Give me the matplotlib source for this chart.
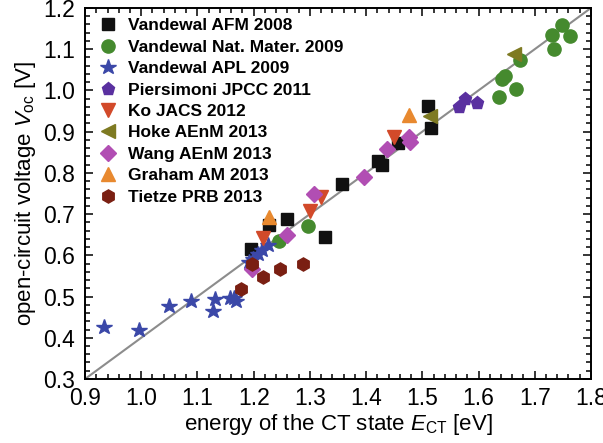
import matplotlib.pyplot as plt
from matplotlib.ticker import MultipleLocator

plt.rcParams['font.family'] = ['Liberation Sans', 'DejaVu Sans']
plt.rcParams['mathtext.fontset'] = 'custom'
plt.rcParams['mathtext.rm'] = 'Liberation Sans'
plt.rcParams['mathtext.it'] = 'Liberation Sans:italic'

# E_CT (eV), Voc (V) per reference
afm08_e = [1.195, 1.228, 1.260, 1.327, 1.357, 1.421, 1.429, 1.457, 1.511, 1.516]
afm08_v = [0.616, 0.674, 0.688, 0.645, 0.773, 0.829, 0.819, 0.872, 0.961, 0.910]
nm09_e = [1.245, 1.296, 1.637, 1.641, 1.648, 1.667, 1.673, 1.735, 1.731, 1.748, 1.763]
nm09_v = [0.635, 0.671, 0.983, 1.027, 1.035, 1.003, 1.073, 1.100, 1.135, 1.159, 1.133]
apl09_e = [0.933, 0.996, 1.049, 1.089, 1.128, 1.132, 1.158, 1.165, 1.169, 1.191, 1.199, 1.208, 1.214, 1.226]
apl09_v = [0.427, 0.419, 0.477, 0.489, 0.466, 0.493, 0.496, 0.497, 0.488, 0.583, 0.590, 0.603, 0.613, 0.625]
pier11_e = [1.566, 1.576, 1.597]
pier11_v = [0.959, 0.980, 0.969]
ko12_e = [1.217, 1.300, 1.319, 1.450]
ko12_v = [0.641, 0.708, 0.742, 0.886]
hoke13_e = [1.514, 1.664]
hoke13_v = [0.938, 1.089]
wang13_e = [1.197, 1.259, 1.307, 1.397, 1.437, 1.476, 1.478]
wang13_v = [0.566, 0.650, 0.748, 0.789, 0.857, 0.887, 0.876]
graham13_e = [1.228, 1.476]
graham13_v = [0.692, 0.941]
tietze13_e = [1.178, 1.197, 1.217, 1.247, 1.287]
tietze13_v = [0.518, 0.578, 0.548, 0.567, 0.579]

series = [
    ('Vandewal AFM 2008', afm08_e, afm08_v, 's', '#111111', 8.5),
    ('Vandewal Nat. Mater. 2009', nm09_e, nm09_v, 'o', '#458a2e', 9.5),
    ('Vandewal APL 2009', apl09_e, apl09_v, '*', '#3b48a8', 11.5),
    ('Piersimoni JPCC 2011', pier11_e, pier11_v, 'p', '#5a30a0', 9.5),
    ('Ko JACS 2012', ko12_e, ko12_v, 'v', '#d24a2a', 9.5),
    ('Hoke AEnM 2013', hoke13_e, hoke13_v, '<', '#7e7a22', 9.5),
    ('Wang AEnM 2013', wang13_e, wang13_v, 'D', '#b14eb3', 8.5),
    ('Graham AM 2013', graham13_e, graham13_v, '^', '#e8892f', 9.5),
    ('Tietze PRB 2013', tietze13_e, tietze13_v, 'h', '#7a1f12', 9.5),
]

fig = plt.figure(figsize=(6.03, 4.43), dpi=100)
ax = fig.add_axes([0.141, 0.1445, 0.839, 0.8375])

ax.plot([0.9, 1.8], [0.3, 1.2], color='#8c8c8c', lw=1.5, zorder=1)
for name, e, v, m, c, ms in series:
    ax.plot(e, v, ls='none', marker=m, color=c, ms=ms, mec=c, label=name, zorder=3)

ax.set_xlim(0.9, 1.8)
ax.set_ylim(0.3, 1.2)
ax.xaxis.set_major_locator(MultipleLocator(0.1))
ax.xaxis.set_minor_locator(MultipleLocator(0.02))
ax.yaxis.set_major_locator(MultipleLocator(0.1))
ax.yaxis.set_minor_locator(MultipleLocator(0.02))
ax.xaxis.set_major_formatter(plt.FormatStrFormatter('%.1f'))
ax.yaxis.set_major_formatter(plt.FormatStrFormatter('%.1f'))
ax.tick_params(which='both', direction='in', top=True, right=True, labelsize=16.5, width=1.1)
ax.tick_params(which='major', length=6)
ax.tick_params(which='minor', length=3.5)
ax.tick_params(axis='x', pad=6)
ax.tick_params(axis='y', pad=7)
for s in ax.spines.values():
    s.set_linewidth(1.4)

ax.set_xlabel(r'energy of the CT state $E_{\rm CT}$ [eV]', fontsize=16, labelpad=1)
ax.set_ylabel(r'open-circuit voltage $V_{\rm oc}$ [V]', fontsize=16, labelpad=4)

ax.legend(loc='upper left', bbox_to_anchor=(0.0, 1.005), frameon=False,
          prop={'weight': 'bold', 'size': 12.5}, handletextpad=0.55,
          labelspacing=0.36, borderaxespad=0.3, handlelength=1.2, numpoints=1)

fig.savefig('out.png', dpi=100)
